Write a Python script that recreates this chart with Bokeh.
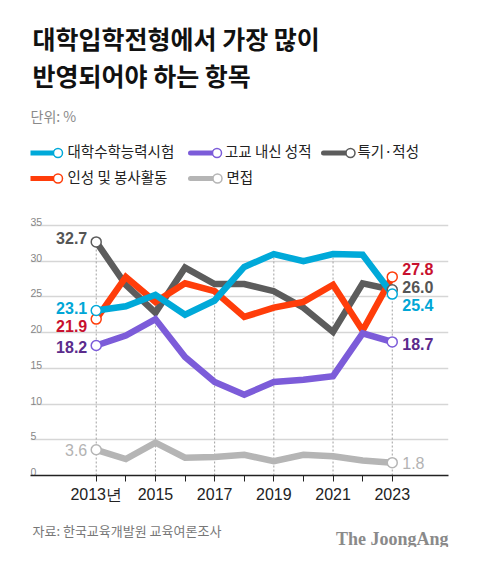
from bokeh.plotting import figure
from bokeh.layouts import column
from bokeh.models import Range1d, FixedTicker
from bokeh.core.properties import value
from bokeh.embed import file_html
from bokeh.resources import INLINE

# ---------------- data ----------------
years = list(range(2013, 2024))
suneung = [23.1, 23.7, 25.3, 22.5, 24.5, 29.2, 31.0, 30.0, 31.0, 30.9, 25.4]
naesin = [18.2, 19.6, 21.9, 16.6, 13.1, 11.3, 13.1, 13.4, 13.9, 19.9, 18.7]
teukgi = [32.7, 26.7, 22.8, 29.1, 26.8, 26.8, 25.8, 23.5, 20.1, 26.9, 26.0]
inseong = [21.9, 27.8, 24.3, 26.9, 25.8, 22.2, 23.5, 24.3, 26.7, 20.3, 27.8]
myeonjeop = [3.6, 2.3, 4.6, 2.5, 2.6, 2.9, 2.0, 2.9, 2.7, 2.1, 1.8]

series_names = ["대학수학능력시험", "고교 내신 성적", "특기·적성", "인성 및 봉사활동", "면접"]
y_ticks = [0, 5, 10, 15, 20, 25, 30, 35]
x_tick_labels = {2013: "2013년", 2015: "2015", 2017: "2017", 2019: "2019", 2021: "2021", 2023: "2023"}
title_lines = ["대학입학전형에서 가장 많이", "반영되어야 하는 항목"]
unit_text = "단위: %"
source_text = "자료: 한국교육개발원 교육여론조사"
brand_text = "The JoongAng"

# ---------------- styles ----------------
series = {
    "대학수학능력시험": dict(vals=suneung, color="#00a9d9", label_color="#00a6d6", bold=True, dl=-3, dr=11.4),
    "고교 내신 성적": dict(vals=naesin, color="#7c5cd9", label_color="#5b2b8c", bold=True, dl=1.7, dr=1.6),
    "특기·적성": dict(vals=teukgi, color="#5c5c5c", label_color="#555555", bold=True, dl=-4, dr=-2.3),
    "인성 및 봉사활동": dict(vals=inseong, color="#ff3d0a", label_color="#c8102e", bold=True, dl=6.5, dr=-8.4),
    "면접": dict(vals=myeonjeop, color="#b5b5b5", label_color="#b3b3b3", bold=False, dl=0, dr=0),
}
draw_order = ["면접", "특기·적성", "인성 및 봉사활동", "고교 내신 성적", "대학수학능력시험"]

W = 464
H_MAIN = 510
H_FOOT = 37
LEFT, RIGHT = 30, 448

p = figure(width=W, height=H_MAIN, output_backend="svg", toolbar_location=None,
           x_range=Range1d(2010.78, 2024.90), y_range=Range1d(0, 66.5),
           y_axis_location=None,
           min_border_left=LEFT, min_border_right=W - RIGHT, min_border_top=0, min_border_bottom=35)
p.outline_line_color = None
p.background_fill_color = "white"
p.border_fill_color = "white"

# pixel space for header elements (canvas coordinates)
p.extra_x_ranges = {"px": Range1d(LEFT, RIGHT)}
p.extra_y_ranges = {"px": Range1d(475, 0)}

# grid
p.xgrid.visible = False
p.ygrid.ticker = FixedTicker(ticks=y_ticks)
p.ygrid.grid_line_color = "#d6d6d6"
p.ygrid.grid_line_width = 1.5

# x axis
ax = p.xaxis[0]
ax.ticker = FixedTicker(ticks=years)
ax.major_label_overrides = {y: x_tick_labels.get(y, "") for y in years}
ax.axis_line_color = "#222222"
ax.axis_line_width = 1.5
ax.major_tick_in = 0
ax.major_tick_out = 6
ax.major_tick_line_color = "#222222"
ax.major_tick_line_width = 1
ax.minor_tick_line_color = None
ax.major_label_text_font = "Liberation Sans"
ax.major_label_text_font_size = "16px"
ax.major_label_text_color = "#222222"
ax.major_label_standoff = 4

# y tick labels (inside, above gridlines)
p.text(x=[LEFT] * len(y_ticks), y=y_ticks, text=[str(t) for t in y_ticks], x_range_name="px",
       text_align="left", text_baseline="alphabetic", y_offset=-3.5,
       text_font=value("Liberation Sans"), text_font_size=value("10.5px"), text_color="#888888")

# vertical dotted guides at labelled years, up to the highest value
odd_years = [y for y in years if y in x_tick_labels]
tops = [max(series[n]["vals"][years.index(y)] for n in series_names) for y in odd_years]
p.segment(x0=odd_years, y0=[0] * len(odd_years), x1=odd_years, y1=tops,
          line_color="#a0a0a0", line_width=1, line_dash="2 2")

# lines
for n in draw_order:
    s = series[n]
    p.line(years, s["vals"], line_color=s["color"], line_width=6.5, line_join="miter")

# end markers
for n in draw_order:
    s = series[n]
    p.scatter(x=[years[0], years[-1]], y=[s["vals"][0], s["vals"][-1]], marker="circle", size=10,
              fill_color="white", line_color=s["color"], line_width=1.5)

# end labels
for n in series_names:
    s = series[n]
    style = "bold" if s["bold"] else "normal"
    p.text(x=[years[0]], y=[s["vals"][0]], text=[f"{s['vals'][0]:.1f}"], x_offset=-9, y_offset=s["dl"],
           text_align="right", text_baseline="middle", text_font=value("Liberation Sans"),
           text_font_style=style, text_font_size=value("16px"), text_color=s["label_color"])
    p.text(x=[years[-1]], y=[s["vals"][-1]], text=[f"{s['vals'][-1]:.1f}"], x_offset=10, y_offset=s["dr"],
           text_align="left", text_baseline="middle", text_font=value("Liberation Sans"),
           text_font_style=style, text_font_size=value("16px"), text_color=s["label_color"])

# header: title, unit
p.text(x=[32, 32], y=[37.5, 74.5], text=title_lines, x_range_name="px", y_range_name="px",
       text_align="left", text_baseline="middle", text_font=value("Noto Sans CJK KR"),
       text_font_style="bold", text_font_size=value("25px"), text_color="#111111")
p.text(x=[30], y=[115.5], text=[unit_text], x_range_name="px", y_range_name="px",
       text_align="left", text_baseline="middle", text_font=value("Noto Sans CJK KR"),
       text_font_size=value("14px"), text_color="#8a8a8a")

# legend (manual)
leg_pos = {
    "대학수학능력시험": (30, 57.5, 67, 152.5),
    "고교 내신 성적": (190, 216.5, 224.5, 152.5),
    "특기·적성": (323, 350, 357, 152.5),
    "인성 및 봉사활동": (30, 57.5, 67, 178),
    "면접": (190, 217, 226, 178),
}
for n in series_names:
    x0, xc, xt, yy = leg_pos[n]
    c = series[n]["color"]
    p.segment(x0=[x0], y0=[yy], x1=[xc], y1=[yy], x_range_name="px", y_range_name="px",
              line_color=c, line_width=5, line_cap="round")
    p.scatter(x=[xc], y=[yy], x_range_name="px", y_range_name="px", marker="circle", size=9,
              fill_color="white", line_color=c, line_width=1.5)
    p.text(x=[xt], y=[yy], text=[n], x_range_name="px", y_range_name="px", y_offset=-2.5,
           text_align="left", text_baseline="middle", text_font=value("Noto Sans CJK KR"),
           text_font_size=value("14.5px"), text_color="#222222")

# footer figure (frame aligned with the main figure's frame; canvas coordinates)
f = figure(width=W, height=H_FOOT, output_backend="svg", toolbar_location=None,
           x_range=Range1d(LEFT, RIGHT), y_range=Range1d(H_MAIN + H_FOOT, H_MAIN),
           x_axis_location=None, y_axis_location=None,
           min_border_left=LEFT, min_border_right=W - RIGHT, min_border_top=0, min_border_bottom=0)
f.outline_line_color = None
f.xgrid.visible = False
f.ygrid.visible = False
f.background_fill_color = "white"
f.border_fill_color = "white"
f.text(x=[32], y=[530], text=[source_text], text_align="left", text_baseline="middle",
       text_font=value("Noto Sans CJK KR"), text_font_size=value("13px"), text_color="#777777")
f.text(x=[448], y=[538], text=[brand_text], text_align="right", text_baseline="alphabetic",
       text_font=value("Liberation Serif"), text_font_style="bold", text_font_size=value("18px"),
       text_color="#8a8a8a")

layout = column(p, f, spacing=0)
open("out.html", "w").write(file_html(layout, INLINE))
